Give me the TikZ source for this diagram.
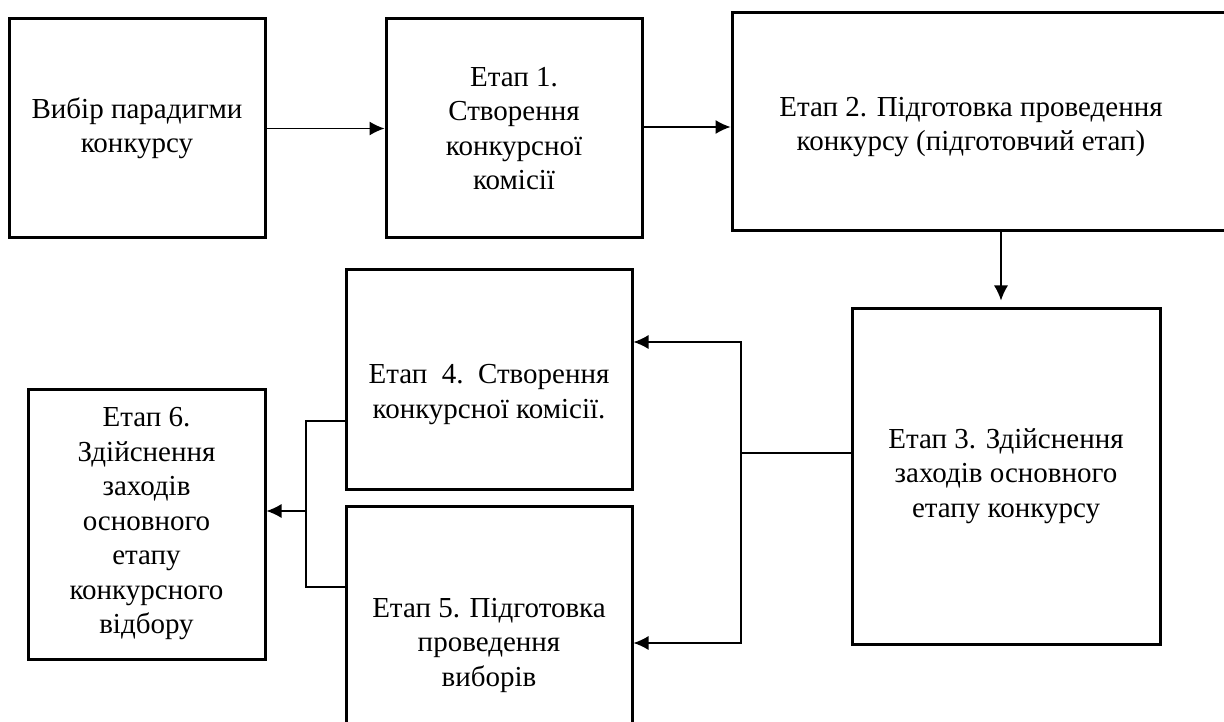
\documentclass[tikz,border=0pt]{standalone}
\usepackage{fontspec}
\setmainfont{Liberation Serif}
\usetikzlibrary{arrows.meta, calc, positioning}

\tikzset{
  stage/.style={draw, line width=3pt, align=center, inner sep=0pt},
  link/.style={line width=1.3pt}
}

\begin{document}
\begin{tikzpicture}[>={Latex[length=15pt, width=14pt]}, x=1pt, y=-1pt, font=\fontsize{29}{34.5}\selectfont]
\useasboundingbox (0,0) rectangle (1224,722);
\clip (0,0) rectangle (1224,722);

\node[stage, minimum width=256pt, minimum height=219pt] (choice) at (137,128.5) {Вибір парадигми\\конкурсу};
\node[stage, minimum width=256pt, minimum height=219pt] (s1) at (514,128.5) {Етап 1.\\Створення\\конкурсної\\комісії};
\node[stage, minimum width=504pt, minimum height=218pt, label={[xshift=-13pt, yshift=-5pt, align=center]center:Етап 2. Підготовка проведення\\конкурсу (підготовчий етап)}] (s2) at (984,122) {};
\node[stage, minimum width=308pt, minimum height=336pt] (s3) at (1006,476) {Етап 3. Здійснення\\заходів основного\\етапу конкурсу};
\node[stage, minimum width=286pt, minimum height=219pt, label={[yshift=-15pt, align=center]center:Етап\ \ 4.\ \ Створення\\конкурсної комісії.}] (s4) at (489,379.5) {};
\node[stage, minimum width=286pt, minimum height=278pt] (s5) at (489,645) {Етап 5. Підготовка\\проведення\\виборів};
\node[stage, minimum width=237pt, minimum height=270pt] (s6) at (146.5,524) {Етап 6.\\Здійснення\\заходів\\основного\\етапу\\конкурсного\\відбору};

\coordinate (split3) at (741,453);
\coordinate (join6) at (306,511);

\draw[link, ->] (choice.east) -- (choice.east -| s1.west);
\draw[link, ->] ([yshift=1.5pt] s1.east) -- ([yshift=1.5pt] s1.east -| s2.west);
\draw[link, ->] ([xshift=-5pt] s3.north |- s2.south) -- ([xshift=-5pt, yshift=6pt] s3.north);

\draw[line width=2.4pt] (s3.west |- split3) -- (split3);
\draw[link, ->] (split3) |- ([yshift=37.5pt] s4.east);
\draw[link, ->] (split3) |- ([yshift=2pt] s5.east);

\draw[link] ([yshift=-41.5pt] s4.west) -| (join6) |- ([yshift=58pt] s5.west);
\draw[link, ->] (join6) -- (join6 -| s6.east);
\end{tikzpicture}
\end{document}
